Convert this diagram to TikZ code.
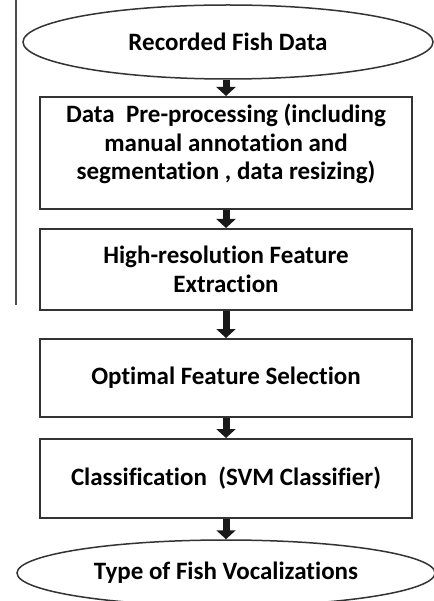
\documentclass[tikz,border=0pt]{standalone}
\usepackage{fontspec}
\setmainfont{Carlito}[RawFeature=-liga]
\usetikzlibrary{shapes.geometric,arrows.meta}
\begin{document}
\begin{tikzpicture}[x=1pt,y=-1pt,
  txt/.style={font=\bfseries\fontsize{25}{28.5}\selectfont, text=black, align=center},
  oval/.style={ellipse, draw=black!80, line width=1.5pt, inner sep=0pt, txt},
  stepbox/.style={rectangle, draw=black!80, line width=2pt, minimum width=372pt, inner sep=0pt, txt},
  flow/.style={line width=7pt, black!90, -{Triangle[width=19pt,length=9pt]}}]
\useasboundingbox (0,0) rectangle (433,601);
\draw[line width=1.5pt, black!70] (16,0) -- (16,305);
\node[oval, minimum width=410pt, minimum height=74pt] (a) at (228,42) {Recorded Fish Data};
\node[stepbox, minimum height=112pt] (b) at (226,153) {};
\node[txt] (bt) at (226,144) {Data\ \ Pre-processing (including\\manual annotation and\\segmentation , data resizing)};
\node[stepbox, minimum height=81pt] (c) at (226,269.5) {High-resolution Feature\\Extraction};
\node[stepbox, minimum height=78pt] (d) at (226,378) {Optimal Feature Selection};
\node[stepbox, minimum height=79pt] (e) at (226,478.5) {Classification\ \ (SVM Classifier)};
\node[oval, minimum width=418pt, minimum height=66pt] (f) at (226,573) {Type of Fish Vocalizations};
\draw[flow] (a.south -| b.north) -- (b.north);
\draw[flow] (b.south) -- (c.north);
\draw[flow] (c.south) -- (d.north);
\draw[flow] (d.south) -- (e.north);
\draw[flow] (e.south) -- (f.north -| e.south);
\end{tikzpicture}
\end{document}
